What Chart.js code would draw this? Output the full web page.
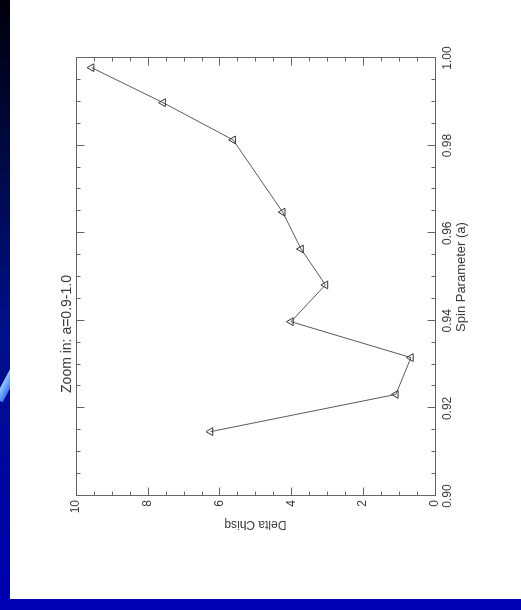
<!DOCTYPE html>
<html><head><meta charset="utf-8">
<script src="https://cdn.jsdelivr.net/npm/chart.js@4.4.1/dist/chart.umd.min.js"></script>
<style>
html,body{margin:0;padding:0;width:521px;height:610px;overflow:hidden;background:#fff;}
#bgL{position:absolute;left:0;top:0;width:10px;height:600px;overflow:hidden;background:linear-gradient(#00000c 0%,#000840 25%,#00108a 55%,#0000b0 100%);}
#streak{position:absolute;left:-12px;top:378px;width:40px;height:9px;background:linear-gradient(#9cc8ff,#3a78ee);transform:rotate(-62deg);}
#bgB{position:absolute;left:0;top:599px;width:521px;height:11px;background:#0000b4;}
#wrap{position:absolute;left:0;top:0;width:610px;height:521px;transform-origin:0 0;transform:translate(0,610px) rotate(-90deg);}
canvas{display:block;}
</style></head>
<body>
<div id="bgL"><div id="streak"></div></div>
<div id="bgB"></div>
<div id="wrap"><canvas id="c" width="610" height="521"></canvas></div>
<script>
// Data
const spin = [0.9147, 0.9232, 0.9316, 0.9398, 0.9482, 0.9564, 0.9648, 0.9813, 0.9898, 0.9978];
const deltaChisq = [6.25, 1.09, 0.67, 4.01, 3.05, 3.73, 4.24, 5.62, 7.57, 9.56];
const spinTicks = [0.90, 0.92, 0.94, 0.96, 0.98, 1.00];
const chisqTicks = [0, 2, 4, 6, 8, 10];
const spinMinorStep = 0.005;
const chisqMinorStep = 0.5;
const titleText = 'Zoom in: a=0.9-1.0';
const xTitle = 'Spin Parameter (a)';
const yTitle = 'Delta Chisq';

const FONT = 'Liberation Sans, Arial, Helvetica, sans-serif';
const TXT = '#3a3a3a';
const AX = '#666';

function minorValues(min, max, step) {
  const out = [];
  const n = Math.round((max - min) / step);
  for (let i = 0; i <= n; i++) out.push(min + i * step);
  return out;
}

const framePlugin = {
  id: 'frame',
  afterDatasetsDraw(chart) {
    const {ctx, chartArea: a, scales: {x, y}} = chart;
    const L = Math.round(a.left) + 0.5, R = Math.round(a.right) + 0.5;
    const T = Math.round(a.top) + 0.5, B = Math.round(a.bottom) + 0.5;
    ctx.save();
    ctx.strokeStyle = AX;
    ctx.lineWidth = 1;
    ctx.strokeRect(L, T, R - L, B - T);
    const major = 8, minor = 4;
    ctx.beginPath();
    minorValues(x.min, x.max, spinMinorStep).forEach(v => {
      const isMaj = spinTicks.some(t => Math.abs(t - v) < 1e-9);
      const len = isMaj ? major : minor;
      const px = Math.round(x.getPixelForValue(v)) + 0.5;
      ctx.moveTo(px, B); ctx.lineTo(px, B - len);
      ctx.moveTo(px, T); ctx.lineTo(px, T + len);
    });
    minorValues(y.min, y.max, chisqMinorStep).forEach(v => {
      const isMaj = chisqTicks.some(t => Math.abs(t - v) < 1e-9);
      const len = isMaj ? major : minor;
      const py = Math.round(y.getPixelForValue(v)) + 0.5;
      ctx.moveTo(L, py); ctx.lineTo(L + len, py);
      ctx.moveTo(R, py); ctx.lineTo(R - len, py);
    });
    ctx.stroke();
    ctx.restore();
  }
};

new Chart(document.getElementById('c'), {
  type: 'scatter',
  data: {
    datasets: [{
      data: spin.map((s, i) => ({x: s, y: deltaChisq[i]})),
      showLine: true,
      borderColor: '#5a5a5a',
      borderWidth: 1,
      pointStyle: 'triangle',
      pointRadius: 4.5,
      pointBorderColor: '#333',
      pointBackgroundColor: 'rgba(255,255,255,0)',
      pointBorderWidth: 1
    }]
  },
  options: {
    responsive: false,
    animation: false,
    devicePixelRatio: 1,
    layout: {padding: {left: 0, right: 58, top: 0, bottom: 0}},
    plugins: {
      legend: {display: false},
      tooltip: {enabled: false},
      title: {
        display: true, text: titleText, color: TXT,
        font: {family: FONT, size: 14, weight: 'normal'},
        padding: {top: 59, bottom: 0}
      }
    },
    scales: {
      x: {
        type: 'linear', min: 0.90, max: 1.00, position: 'bottom',
        afterBuildTicks: s => { s.ticks = spinTicks.map(v => ({value: v})); },
        afterFit: s => { s.height = 86; },
        ticks: {
          callback: v => Number(v).toFixed(2), color: TXT, padding: 5,
          maxRotation: 0, minRotation: 0, autoSkip: false,
          font: {family: FONT, size: 12}
        },
        grid: {display: false, drawTicks: false},
        border: {display: false},
        title: {
          display: true, text: xTitle, color: TXT,
          font: {family: FONT, size: 13}, padding: {top: 0, bottom: 52}
        }
      },
      y: {
        type: 'linear', min: 0, max: 10, position: 'left',
        afterBuildTicks: s => { s.ticks = chisqTicks.map(v => ({value: v})); },
        afterFit: s => { s.width = 114; },
        ticks: {
          callback: v => String(v), color: TXT, padding: 4, autoSkip: false,
          font: {family: FONT, size: 12}
        },
        grid: {display: false, drawTicks: false},
        border: {display: false},
        title: {
          display: true, text: yTitle, color: TXT,
          font: {family: FONT, size: 12}, padding: {top: 78, bottom: 0}
        }
      }
    }
  },
  plugins: [framePlugin]
});
</script>
</body></html>
